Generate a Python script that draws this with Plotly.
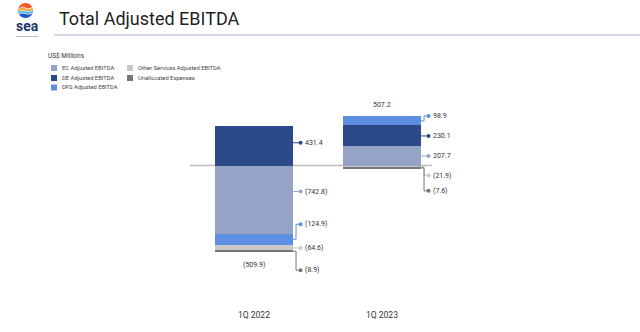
import numpy as np
import plotly.graph_objects as go

W, H = 640, 332

# ---- data (US$ millions) ----
quarters = ["1Q 2022", "1Q 2023"]
series_names = ["EC Adjusted EBITDA", "DE Adjusted EBITDA", "DFS Adjusted EBITDA",
                "Other Services Adjusted EBITDA", "Unallocated Expenses"]
series_colors = ["#94a3c6", "#2c4a89", "#5e8ee2", "#c9c9c9", "#767676"]
ec_values = [-742.8, 207.7]
de_values = [431.4, 230.1]
dfs_values = [-124.9, 98.9]
other_values = [-64.6, -21.9]
unalloc_values = [-8.9, -7.6]
totals = [-509.9, 507.2]

# callout placement: vertical shift (px) of each value label from its segment centre,
# and whether the leader line bends to reach it
label_shift_px = [[-8, -3, -15, 0, 19], [0, 0, -5, 9, 23]]
label_elbow = [[False, False, True, False, True], [False, False, True, True, True]]

series_values = [ec_values, de_values, dfs_values, other_values, unalloc_values]

# ---- layout geometry ----
PLOT_BOTTOM_PX = 304
ZERO_PX = 165.5
UNITS_PER_PX = 10.92
X_LEFT_PX, X_RIGHT_PX = 190, 446
PX_PER_CAT = (X_RIGHT_PX - X_LEFT_PX) / 2
BAR_WIDTH = 0.61
FONT = "Roboto"
TEXT = "#333333"


def px(x, y):
    """pixel position -> paper coordinates"""
    return x / W, 1 - y / H


def fmt(v):
    return f"({abs(v):.1f})" if v < 0 else f"{v:.1f}"


fig = go.Figure()
for name, vals, col in zip(series_names, series_values, series_colors):
    fig.add_trace(go.Bar(x=quarters, y=vals, name=name, width=BAR_WIDTH,
                         marker=dict(color=col, line=dict(width=0)),
                         showlegend=False, hoverinfo="name+y"))

shapes = []
annotations = []

# zero line
shapes.append(dict(type="line", xref="x", yref="y", x0=-0.5,
                   x1=(432 - X_LEFT_PX) / PX_PER_CAT - 0.5, y0=0, y1=0,
                   line=dict(color="#bdbdbd", width=1.5), layer="below"))

# value callouts with leader lines and dots
for qi in range(len(quarters)):
    pos, neg = 0.0, 0.0
    edge = qi + BAR_WIDTH / 2
    elbow_x = edge + 3 / PX_PER_CAT
    dot_x = edge + 7.5 / PX_PER_CAT
    text_x = edge + 9.5 / PX_PER_CAT
    for si, vals in enumerate(series_values):
        v = vals[qi]
        if v >= 0:
            lo, hi = pos, pos + v
            pos = hi
        else:
            lo, hi = neg + v, neg
            neg = lo
        mid = (lo + hi) / 2
        ly = mid - label_shift_px[qi][si] * UNITS_PER_PX
        col = series_colors[si]
        if label_elbow[qi][si]:
            path = f"M{edge},{mid} L{elbow_x},{mid} L{elbow_x},{ly} L{dot_x},{ly}"
        else:
            path = f"M{edge},{ly} L{dot_x},{ly}"
        shapes.append(dict(type="path", xref="x", yref="y", path=path,
                           line=dict(color=col, width=1)))
        shapes.append(dict(type="circle", xref="x", yref="y",
                           xsizemode="pixel", ysizemode="pixel",
                           xanchor=dot_x, yanchor=ly, x0=-2, x1=2, y0=-2, y1=2,
                           fillcolor=col, line=dict(width=0)))
        annotations.append(dict(xref="x", yref="y", x=text_x, y=ly, text=fmt(v),
                                showarrow=False, xanchor="left", yanchor="middle",
                                font=dict(family=FONT, size=7, color=TEXT)))
    # total label
    if totals[qi] < 0:
        annotations.append(dict(xref="x", yref="y", x=qi, y=neg, yshift=-13.5,
                                text=fmt(totals[qi]), showarrow=False,
                                font=dict(family=FONT, size=7, color=TEXT)))
    else:
        annotations.append(dict(xref="x", yref="y", x=qi, y=pos, yshift=11.5,
                                text=fmt(totals[qi]), showarrow=False,
                                font=dict(family=FONT, size=7, color=TEXT)))

# ---- legend (two columns) ----
ux, uy = px(46, 56)
annotations.append(dict(xref="paper", yref="paper", x=ux, y=uy, text="US$ Millions",
                        showarrow=False, xanchor="left", yanchor="middle",
                        font=dict(family=FONT, size=6.5, color=TEXT)))
legend_slots = [(51, 68), (51, 78), (51, 87.5), (127, 68), (127, 78)]
for (lx, lyp), name, col in zip(legend_slots, series_names, series_colors):
    x0, y0 = px(lx, lyp - 3)
    x1, y1 = px(lx + 6, lyp + 3)
    shapes.append(dict(type="rect", xref="paper", yref="paper", x0=x0, x1=x1,
                       y0=y1, y1=y0, fillcolor=col, line=dict(width=0)))
    tx, ty = px(lx + 8.5, lyp)
    annotations.append(dict(xref="paper", yref="paper", x=tx, y=ty, text=name,
                            showarrow=False, xanchor="left", yanchor="middle",
                            font=dict(family=FONT, size=5.8, color="#444444")))

# ---- header ----
tx, ty = px(57, 18.5)
annotations.append(dict(xref="paper", yref="paper", x=tx, y=ty,
                        text="Total Adjusted EBITDA", showarrow=False,
                        xanchor="left", yanchor="middle",
                        font=dict(family=FONT, size=18, color="#1f1f1f")))
x0, y0 = px(54, 35)
shapes.append(dict(type="line", xref="paper", yref="paper", x0=x0, x1=1, y0=y0, y1=y0,
                   line=dict(color="#d3d9ec", width=2)))

# logo: wave-striped disc with wordmark
cx, cy, r = 25.5, 10.5, 7.5


def disc_band(y_top, y_bot, n=24):
    """closed path covering the part of the disc between two pixel rows"""
    pts = []
    for yy in np.linspace(y_top, y_bot, n):
        dx = np.sqrt(max(r * r - (yy - cy) ** 2, 0))
        pts.append(px(cx + dx, yy))
    for yy in np.linspace(y_bot, y_top, n):
        dx = np.sqrt(max(r * r - (yy - cy) ** 2, 0))
        pts.append(px(cx - dx, yy))
    return "M" + " L".join(f"{a},{b}" for a, b in pts) + " Z"


for y_top, y_bot, col in [(cy - r, cy - 2.5, "#ef5a2a"), (cy - 2.5, cy + 0.5, "#f2a33a"),
                          (cy + 0.5, cy + 3.0, "#2fb2e6"), (cy + 3.0, cy + r, "#1f55c8")]:
    shapes.append(dict(type="path", xref="paper", yref="paper",
                       path=disc_band(y_top, y_bot), fillcolor=col, line=dict(width=0)))
for wy in (cy - 2.5, cy + 0.5, cy + 3.0):
    pts = [px(cx + dx, wy + 0.8 * np.sin(dx * 0.6)) for dx in np.linspace(-r + 0.6, r - 0.6, 12)]
    shapes.append(dict(type="path", xref="paper", yref="paper",
                       path="M" + " L".join(f"{a},{b}" for a, b in pts),
                       line=dict(color="white", width=0.8)))
sx, sy = px(27, 26)
annotations.append(dict(xref="paper", yref="paper", x=sx, y=sy, text="<b>sea</b>",
                        showarrow=False, xanchor="center", yanchor="middle",
                        font=dict(family=FONT, size=14, color="#1b3566")))
gx, gy = px(27, 36)
annotations.append(dict(xref="paper", yref="paper", x=gx, y=gy,
                        text="connecting the dots", showarrow=False,
                        xanchor="center", yanchor="middle",
                        font=dict(family=FONT, size=2.5, color="#555555")))

fig.update_layout(
    width=W, height=H, margin=dict(l=0, r=0, t=0, b=0),
    paper_bgcolor="white", plot_bgcolor="rgba(0,0,0,0)",
    barmode="relative", bargap=0,
    shapes=shapes, annotations=annotations,
    xaxis=dict(domain=[X_LEFT_PX / W, X_RIGHT_PX / W], range=[-0.5, 1.5],
               type="category", showgrid=False, zeroline=False, showline=False,
               ticks="", ticklabelstandoff=4,
               tickfont=dict(family=FONT, size=8.5, color=TEXT)),
    yaxis=dict(domain=[1 - PLOT_BOTTOM_PX / H, 1],
               range=[-(PLOT_BOTTOM_PX - ZERO_PX) * UNITS_PER_PX, ZERO_PX * UNITS_PER_PX],
               showgrid=False, zeroline=False, showline=False, showticklabels=False),
)

fig.write_html("out.html")
